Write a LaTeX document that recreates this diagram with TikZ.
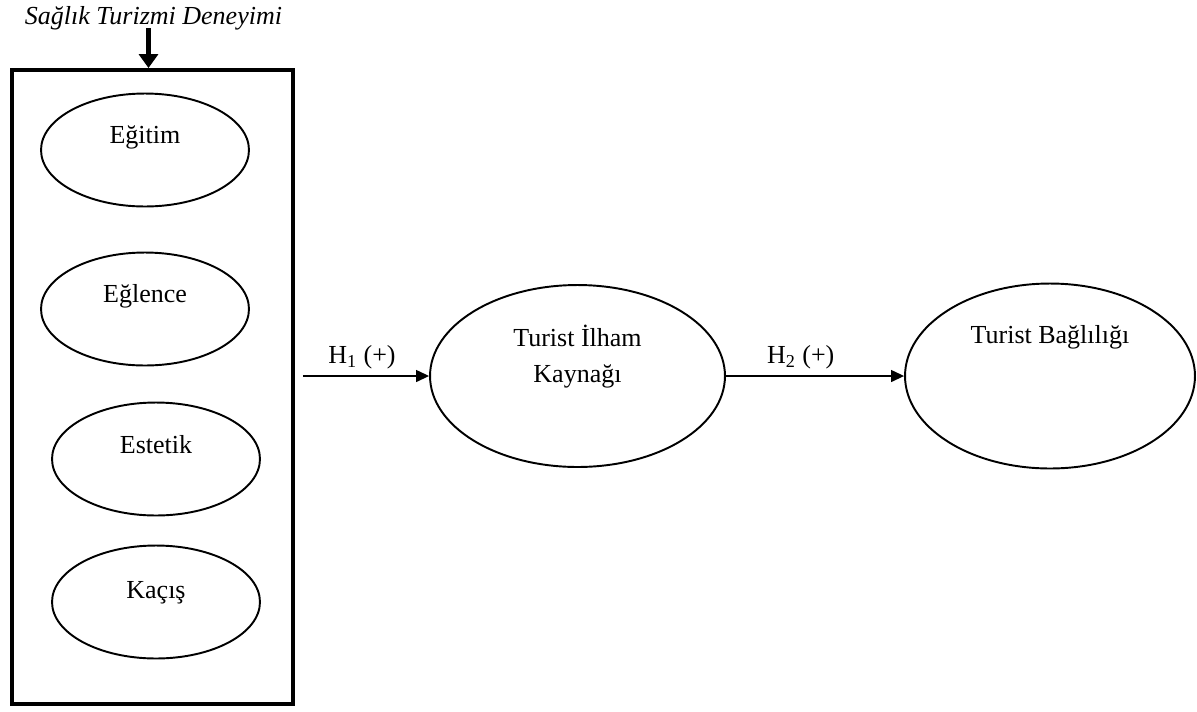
\documentclass[tikz,border=0pt]{standalone}
\usepackage{fontspec}
\setmainfont{Liberation Serif}
\usetikzlibrary{arrows.meta,positioning,shapes.geometric}

\begin{document}
\begin{tikzpicture}[
    x=0.02cm, y=-0.02cm,
    every node/.style={font=\fontsize{14.8}{20.4}\selectfont},
    dim/.style={draw, ellipse, line width=1.1pt, align=center,
      minimum width=4.16cm, minimum height=2.26cm, text height=0.36cm, text depth=0.62cm},
    factor/.style={dim, minimum width=5.9cm, minimum height=3.64cm},
    expbox/.style={draw, line width=2.3pt, minimum width=5.62cm, minimum height=12.68cm},
    arr/.style={-{Triangle[length=0.26cm,width=0.24cm]}, line width=0.75pt},
    bigarr/.style={-{Triangle[length=0.28cm,width=0.38cm]}, line width=3.4pt}
  ]
    \useasboundingbox (0,0) rectangle (1197,711);
    \node[font=\fontsize{14.8}{20.4}\selectfont\itshape, inner sep=0pt, anchor=base] (title) at (153.5,24) {Sağlık Turizmi Deneyimi};
    \node[expbox] (exp) at (152.5,387) {};
    \node[dim] (egitim) at (145,150) {Eğitim};
    \node[dim] (eglence) at (145,309) {Eğlence};
    \node[dim, text depth=0.6cm] (estetik) at (156,459) {Estetik};
    \node[dim, text depth=0.52cm] (kacis) at (156,602) {Kaçış};
    \node[factor, text height=1.08cm, text depth=0.84cm] (ilham) at (577.5,376) {Turist İlham\\Kaynağı};
    \node[factor, minimum width=5.8cm, minimum height=3.7cm, text depth=1.68cm] (bag) at (1050,376) {Turist Bağlılığı};
    \coordinate (drop) at (148.5,28);
    \draw[bigarr] (drop) -- (drop |- exp.north);
    \draw[arr, shorten <=0.16cm] (exp.east |- ilham.west) -- node[above] {H\textsubscript{1} (+)} (ilham.west);
    \draw[arr] (ilham.east) -- node[above, pos=0.42] {H\textsubscript{2} (+)} (bag.west);
  \end{tikzpicture}
\end{document}
